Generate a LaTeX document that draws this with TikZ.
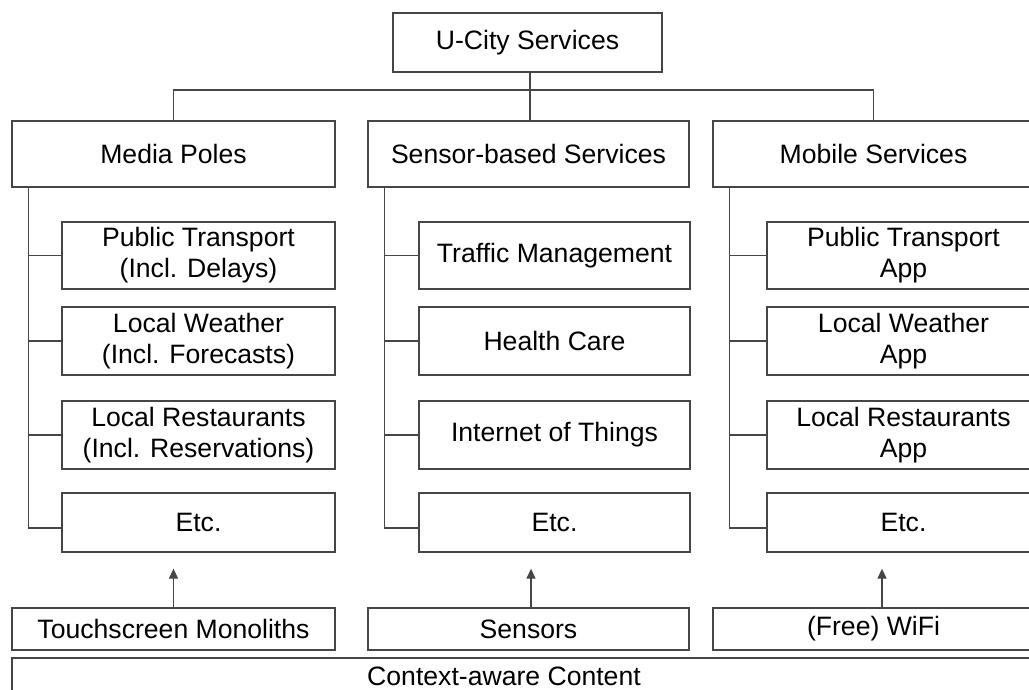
\documentclass[tikz,border=0pt]{standalone}
\usepackage{fontspec}
\setmainfont{Liberation Sans}
\usetikzlibrary{positioning,arrows.meta}
\definecolor{edgegray}{RGB}{70,70,70}

\begin{document}
\begin{tikzpicture}[x=1pt,y=-1pt,
  box/.style={draw=edgegray, line width=1.3pt, inner sep=0pt, align=center,
    font=\fontsize{26.6}{31}\selectfont},
  link/.style={draw=edgegray, line width=1.3pt},
  up/.style={link, -{Triangle[length=10pt,width=9pt]}, shorten >=16pt}]
  \useasboundingbox (0,0) rectangle (1029,690);
  \clip (0,0) rectangle (1029,690);

  % top and first level
  \node[box, minimum width=269pt, minimum height=59pt] (city) at (527.5,42.5) {U-City Services};
  \node[box, minimum width=323pt, minimum height=66pt] (media) at (173.5,154) {Media Poles};
  \node[box, minimum width=321pt, minimum height=66pt] (sensor) at (528.5,154) {Sensor-based Services};
  \node[box, minimum width=321pt, minimum height=66pt] (mobile) at (873.5,154) {Mobile Services};
  \coordinate (bus) at (530,90);
  \draw[link] (bus |- city.south) -- (bus |- sensor.north);
  \draw[link] (media.north) |- (bus) -| (mobile.north);

  % second level
  \foreach \n/\y/\h/\t in {1/255.5/67/{Public Transport\\(Incl. Delays)}, 2/341/68/{Local Weather\\(Incl. Forecasts)},
      3/435/68/{Local Restaurants\\(Incl. Reservations)}, 4/522.5/59/{Etc.}}
    \node[box, minimum width=273pt, minimum height=\h pt] (mp\n) at (198.5,\y) {\t};
  \foreach \n/\y/\h/\t in {1/255.5/67/{Traffic Management}, 2/341/68/{Health Care},
      3/435/68/{Internet of Things}, 4/522.5/59/{Etc.}}
    \node[box, minimum width=271pt, minimum height=\h pt] (sb\n) at (554.5,\y) {\t};
  \foreach \n/\y/\h/\t in {1/255.5/67/{Public Transport\\App}, 2/341/68/{Local Weather\\App},
      3/435/68/{Local Restaurants\\App}, 4/522.5/59/{Etc.}}
    \node[box, minimum width=273pt, minimum height=\h pt] (ms\n) at (903.5,\y) {\t};

  \foreach \p/\c in {media/mp, sensor/sb, mobile/ms}
  {
    \coordinate (\c spine) at ([xshift=17pt]\p.south west);
    \draw[link] (\c spine) |- ([yshift=-5.5pt]\c4.west);
    \foreach \n in {1,2,3}
      \draw[link] (\c spine |- \c\n.west) -- (\c\n.west);
  }

  % bottom
  \node[box, minimum width=323pt, minimum height=42pt] (touch) at (173.5,629) {Touchscreen Monoliths};
  \node[box, minimum width=321pt, minimum height=42pt] (sens) at (528.5,629) {Sensors};
  \node[box, minimum width=321pt, minimum height=42pt] (wifi) at (873.5,629) {(Free) WiFi};
  \draw[up] (touch.north) -- (touch.north |- mp4.south);
  \draw[up] ([xshift=2.5pt]sens.north) -- ([xshift=2.5pt]sens.north |- sb4.south);
  \draw[up] ([xshift=8.5pt]wifi.north) -- ([xshift=8.5pt]wifi.north |- ms4.south);

  \node[box, minimum width=1028pt, minimum height=44pt] (context) at (526,680) {};
  \node[inner sep=0pt, font=\fontsize{26.6}{31}\selectfont] (contextlabel) at (504,676) {Context-aware Content};
\end{tikzpicture}
\end{document}
